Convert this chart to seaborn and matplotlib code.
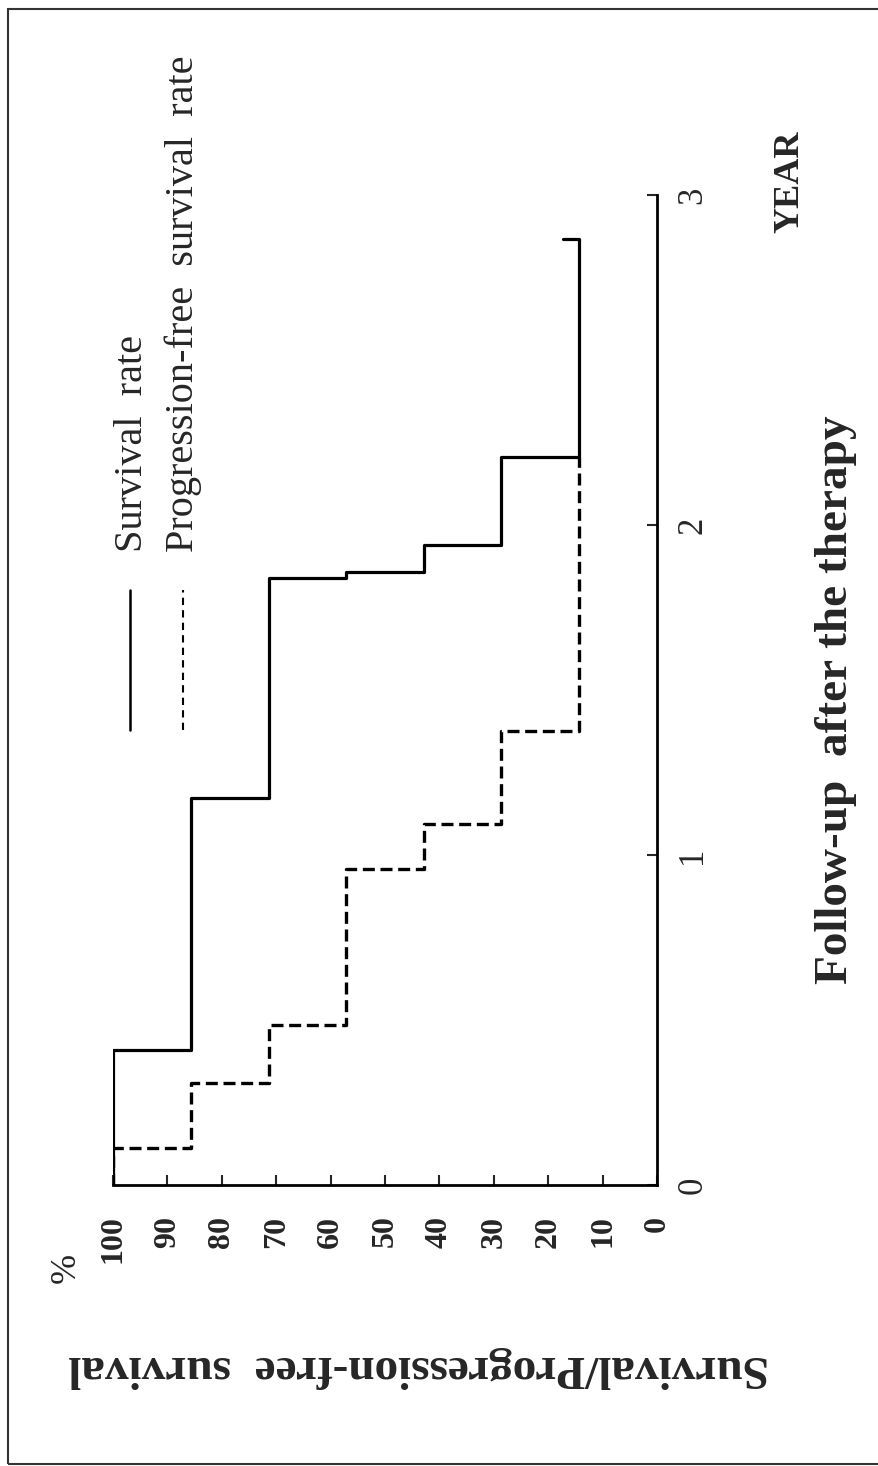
import matplotlib
matplotlib.use("Agg")
import matplotlib.pyplot as plt
import matplotlib.patches as patches
import seaborn as sns
import pandas as pd

# Kaplan-Meier style curves (years after therapy, % of patients)
os_years = [0.0, 0.409, 1.173, 1.839, 1.858, 1.939, 2.206]
os_rate = [100, 85.7, 71.4, 57.1, 42.9, 28.6, 14.3]
os_end = 2.867
os_censor = 17.3

pfs_years = [0.0, 0.112, 0.309, 0.485, 0.958, 1.094, 1.376]
pfs_rate = [100, 85.7, 71.4, 57.1, 42.9, 28.6, 14.3]
pfs_end = 2.206

pct_ticks = [0, 10, 20, 30, 40, 50, 60, 70, 80, 90, 100]
year_ticks = [0, 1, 2, 3]

legend_labels = ["Survival  rate", "Progression-free  survival  rate"]
x_label = "Survival/Progression-free  survival"
y_label = "Follow-up  after the therapy"


def steps(times, rates, end):
    xs, ys = [], []
    for i, r in enumerate(rates):
        t1 = times[i + 1] if i + 1 < len(times) else end
        xs += [r, r]
        ys += [times[i], t1]
    return xs, ys


sx, sy = steps(os_years, os_rate, os_end)
sx.append(os_censor)
sy.append(os_end)
px, py = steps(pfs_years, pfs_rate, pfs_end)

os_df = pd.DataFrame({"pct": sx, "year": sy})
pfs_df = pd.DataFrame({"pct": px, "year": py})

sns.set_style("white")
plt.rcParams["font.family"] = ["Liberation Serif", "DejaVu Serif"]

W, H = 879, 1466
fig = plt.figure(figsize=(W / 100, H / 100), dpi=100)
ax = fig.add_axes([113 / W, 1 - 1185 / H, (657 - 113) / W, (1185 - 195) / H])

sns.lineplot(data=os_df, x="pct", y="year", sort=False, estimator=None,
             color="black", lw=2.3, ax=ax)
sns.lineplot(data=pfs_df, x="pct", y="year", sort=False, estimator=None,
             color="black", lw=2.4, linestyle=(0, (3.6, 1.7)), ax=ax)

ax.set_xlim(100, 0)
ax.set_ylim(0, 3)
ax.set_xticks(pct_ticks)
ax.set_yticks(year_ticks)
ax.yaxis.tick_right()
for s in ["top", "left"]:
    ax.spines[s].set_visible(False)
for s in ["bottom", "right"]:
    ax.spines[s].set_linewidth(2.0)
    ax.spines[s].set_color("black")

ax.tick_params(axis="x", direction="in", length=7, width=1.5, pad=22,
               labelsize=23, labelrotation=90, bottom=True)
ax.tick_params(axis="y", direction="in", length=7, width=1.5, pad=14,
               labelsize=25, labelrotation=90, right=True, left=False)
for t in ax.get_xticklabels():
    t.set_fontweight("bold")
for t in ax.get_yticklabels():
    t.set_verticalalignment("center")

ax.set_xlabel(x_label, fontsize=34, fontweight="bold", rotation=180,
              ha="center", va="center")
ax.xaxis.set_label_coords((419 - 113) / 544, (1185 - 1367) / 990)
ax.set_ylabel(y_label, fontsize=34, fontweight="bold", rotation=90,
              ha="center", va="center")
ax.yaxis.set_label_position("right")
ax.yaxis.set_label_coords((815 - 113) / 544, (1185 - 700) / 990)

ax.text((790 - 113) / 544, (1185 - 182) / 990, "YEAR", transform=ax.transAxes,
        rotation=90, fontsize=26, fontweight="bold", ha="center", va="center")
ax.text((66 - 113) / 544, (1185 - 1268) / 990, "%", transform=ax.transAxes,
        rotation=90, fontsize=26, ha="center", va="center")

# legend drawn rotated, like the rest of the figure
ly0, ly1 = (1185 - 730) / 990, (1185 - 590) / 990
ax.plot([17 / 544, 17 / 544], [ly0, ly1], transform=ax.transAxes,
        color="black", lw=1.8)
ax.plot([70 / 544, 70 / 544], [ly0, ly1], transform=ax.transAxes,
        color="black", lw=1.5, linestyle=(0, (3.5, 2.5)))
ax.text(20 / 544, (1185 - 552) / 990, legend_labels[0], transform=ax.transAxes,
        rotation=90, fontsize=29, ha="center", va="bottom")
ax.text(70 / 544, (1185 - 552) / 990, legend_labels[1], transform=ax.transAxes,
        rotation=90, fontsize=29, ha="center", va="bottom")

# frame around the whole figure
fig.patches.append(patches.Rectangle((8 / W, 1 - 1464 / H), 1.0, (1464 - 9) / H,
                                     transform=fig.transFigure, fill=False,
                                     edgecolor="#333333", lw=1.5))

fig.savefig("out.png", dpi=100)
